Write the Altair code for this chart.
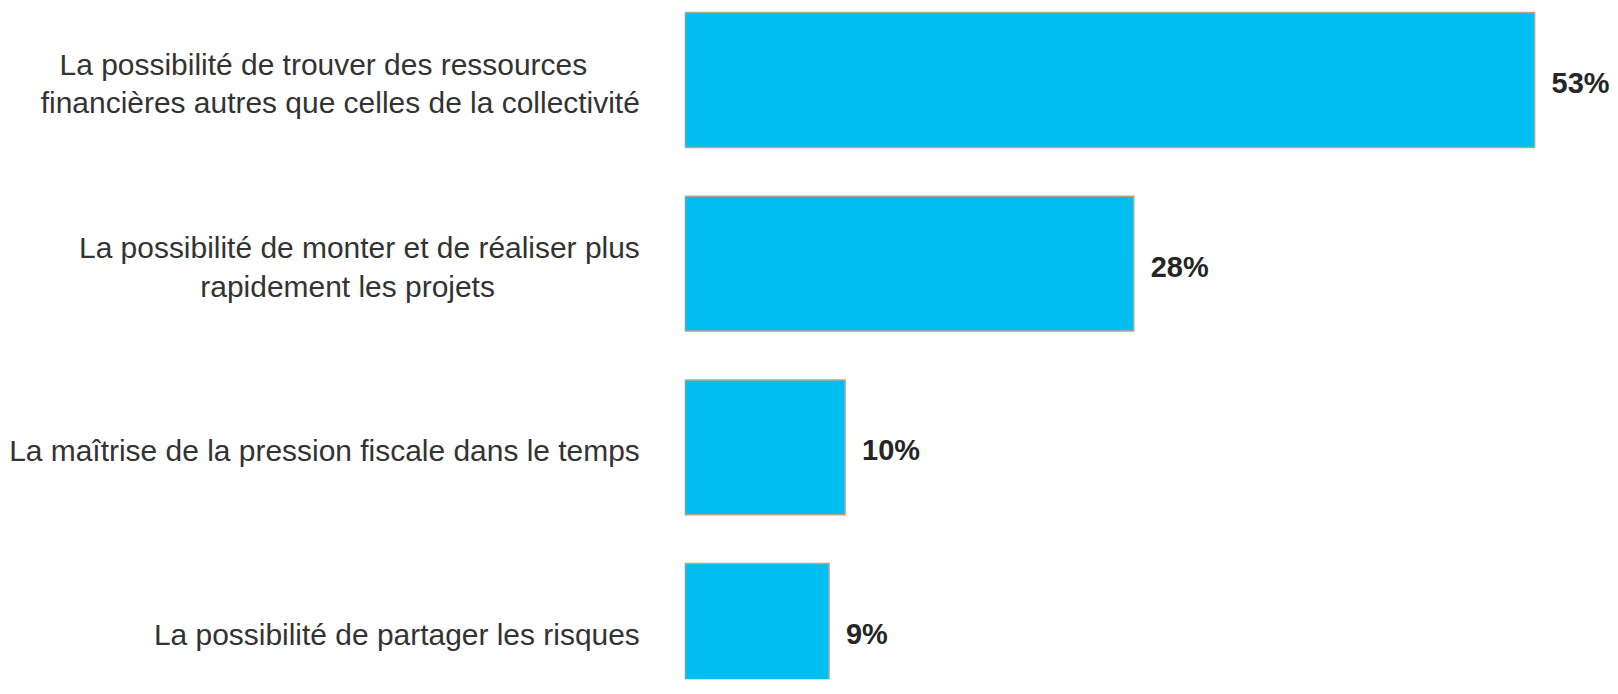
import altair as alt
import pandas as pd

# Category labels (each a list of text lines), values in percent
labels = [
    ["La possibilité de trouver des ressources",
     "financières autres que celles de la collectivité"],
    ["La possibilité de monter et de réaliser plus",
     "rapidement les projets"],
    ["La maîtrise de la pression fiscale dans le temps"],
    ["La possibilité de partager les risques"],
]
values = [53, 28, 10, 9]

keys = [" ".join(l) for l in labels]

bars_df = pd.DataFrame({"key": keys, "value": values})

rows = []
for key, lines in zip(keys, labels):
    maxlen = max(len(s) for s in lines)
    for i, s in enumerate(lines):
        rows.append({"key": key, "line": s, "idx": i, "n": len(lines), "maxlen": maxlen})
lab_df = pd.DataFrame(rows)

FONT = "Liberation Sans"

y_enc = alt.Y(
    "key:N",
    sort=keys,
    scale=alt.Scale(range=[4, 691], paddingInner=0.266, paddingOuter=0),
    axis=None,
)
x_scale = alt.Scale(domain=[0, 57.7], nice=False, zero=True)

bars = alt.Chart(bars_df).mark_bar(
    color="#00BDF2", stroke="#B3A88F", strokeWidth=1.5, clip=True
).encode(
    x=alt.X("value:Q", scale=x_scale, axis=None),
    y=y_enc,
)

vals = alt.Chart(bars_df).transform_calculate(
    lbl="datum.value + '%'"
).mark_text(
    align="left", baseline="middle", dx=17, dy=4, font=FONT, fontSize=29,
    fontWeight="bold", color="#262626"
).encode(
    x=alt.X("value:Q", scale=x_scale, axis=None),
    y=y_enc,
    text="lbl:N",
)

cats = alt.Chart(lab_df).mark_text(
    align="right", baseline="middle", font=FONT, fontSize=30, color="#333333",
    dx={"expr": "-(datum.maxlen - length(datum.line)) * 6.6"},
    dy={"expr": "(datum.idx - (datum.n - 1) / 2) * 39 + 5"},
).encode(
    x=alt.value(-45),
    y=y_enc,
    text="line:N",
)

chart = alt.layer(bars, vals, cats).properties(
    width=927,
    height=672,
    autosize=alt.AutoSizeParams(type="none"),
    padding={"left": 678, "top": 0, "right": 0, "bottom": 0},
).configure_view(stroke=None)

chart.save("out.html", embed_options={"renderer": "svg", "actions": False})
